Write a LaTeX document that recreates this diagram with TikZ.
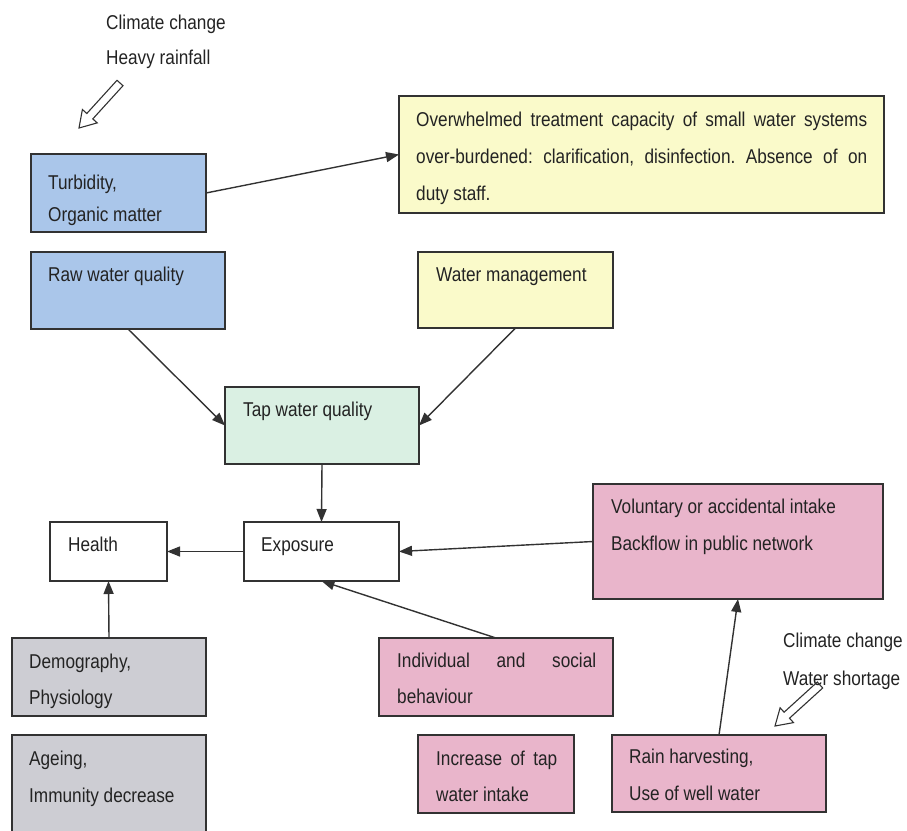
\documentclass[tikz,border=0pt]{standalone}
\usepackage{fontspec}
\setmainfont{Liberation Sans}[FakeStretch=0.86]
\usetikzlibrary{arrows.meta}
\definecolor{bluebox}{RGB}{170,198,234}
\definecolor{yellowbox}{RGB}{250,250,202}
\definecolor{greenbox}{RGB}{218,240,227}
\definecolor{pinkbox}{RGB}{233,181,203}
\definecolor{graybox}{RGB}{205,205,211}
\definecolor{edge}{RGB}{50,50,50}
\definecolor{ink}{RGB}{35,35,35}
\begin{document}
\frenchspacing
\begin{tikzpicture}[x=1pt,y=-1pt,
  box/.style={draw=edge,line width=1.5pt,inner sep=0pt,outer sep=0pt,anchor=north west},
  txt/.style={inner sep=0pt,anchor=base west,text=ink,font=\fontsize{20}{22}\selectfont},
  conn/.style={draw=edge,line width=1.4pt,-{Triangle[length=13pt,width=10pt]}},
  hollow/.style={draw=edge,line width=1.1pt,line join=miter}]
\useasboundingbox (0,0) rectangle (907,830);
\clip (0,0) rectangle (907,830);
% boxes
\node[box,fill=bluebox,minimum width=175pt,minimum height=78pt] (turb) at (31,154) {};
\node[box,fill=yellowbox,minimum width=485pt,minimum height=117pt] (over) at (399,96) {};
\node[box,fill=bluebox,minimum width=194pt,minimum height=77pt] (raw) at (31,252) {};
\node[box,fill=yellowbox,minimum width=195pt,minimum height=76pt] (wm) at (418,252) {};
\node[box,fill=greenbox,minimum width=194pt,minimum height=77pt] (tap) at (225,387) {};
\node[box,fill=white,minimum width=117pt,minimum height=59pt] (health) at (50,522) {};
\node[box,fill=white,minimum width=155pt,minimum height=59pt] (expo) at (244,522) {};
\node[box,fill=pinkbox,minimum width=290pt,minimum height=115pt] (vol) at (593,484) {};
\node[box,fill=graybox,minimum width=194pt,minimum height=78pt] (demo) at (12,638) {};
\node[box,fill=graybox,minimum width=194pt,minimum height=115pt] (age) at (12,735) {};
\node[box,fill=pinkbox,minimum width=234pt,minimum height=78pt] (indiv) at (379,638) {};
\node[box,fill=pinkbox,minimum width=156pt,minimum height=78pt] (incr) at (418,735) {};
\node[box,fill=pinkbox,minimum width=214pt,minimum height=77pt] (rain) at (612,735) {};
% texts
\node[txt] (cc1) at (106,29) {Climate change};
\node[txt] (cc2) at (106,64) {Heavy rainfall};
\node[txt] (turb1) at (48,189) {Turbidity,};
\node[txt] (turb2) at (48,221) {Organic matter};
\node[txt] (over1) at (416,126) {\makebox[451pt][s]{Overwhelmed treatment capacity of small water systems}};
\node[txt] (over2) at (416,163) {\makebox[451pt][s]{over-burdened: clarification, disinfection. Absence of on}};
\node[txt] (over3) at (416,200) {duty staff.};
\node[txt] (raw1) at (48,281) {Raw water quality};
\node[txt] (wm1) at (436,281) {Water management};
\node[txt] (tap1) at (243,416) {Tap water quality};
\node[txt] (health1) at (68,551) {Health};
\node[txt] (expo1) at (261,551) {Exposure};
\node[txt] (vol1) at (611,513) {Voluntary or accidental intake};
\node[txt] (vol2) at (611,550) {Backflow in public network};
\node[txt] (demo1) at (29,668) {Demography,};
\node[txt] (demo2) at (29,704) {Physiology};
\node[txt] (age1) at (29,765) {Ageing,};
\node[txt] (age2) at (29,802) {Immunity decrease};
\node[txt] (indiv1) at (397,667) {\makebox[199pt][s]{Individual and social}};
\node[txt] (indiv2) at (397,703) {behaviour};
\node[txt] (incr1) at (436,765) {\makebox[121pt][s]{Increase of tap}};
\node[txt] (incr2) at (436,801) {water intake};
\node[txt] (rain1) at (629,763) {Rain harvesting,};
\node[txt] (rain2) at (629,800) {Use of well water};
\node[txt] (cc3) at (783,647) {Climate change};
\node[txt] (cc4) at (783,685) {Water shortage};
% connectors
\draw[conn] (turb.east) -- (over.west);
\draw[conn] (raw.south) -- (tap.west);
\draw[conn] (wm.south) -- (tap.east);
\draw[conn] (tap.south) -- (expo.north);
\draw[conn] (expo.west) -- (health.east);
\draw[conn] (vol.west) -- (expo.east);
\draw[conn] (indiv.north) -- (expo.south);
\draw[conn] (rain.north) -- (vol.south);
\draw[conn] (demo.north) -- (health.south);
% hollow block arrows
\draw[hollow] (79,128) -- (97.2,122.9) -- (92.8,118.9) -- (123.0,85.7) -- (117.0,80.3) -- (86.8,113.5) -- (82.4,109.5) -- cycle;
\draw[hollow] (775,726) -- (793.5,722.6) -- (789.5,718.2) -- (822.7,688.0) -- (817.3,682.0) -- (784.1,712.2) -- (780.1,707.8) -- cycle;
\end{tikzpicture}
\end{document}
